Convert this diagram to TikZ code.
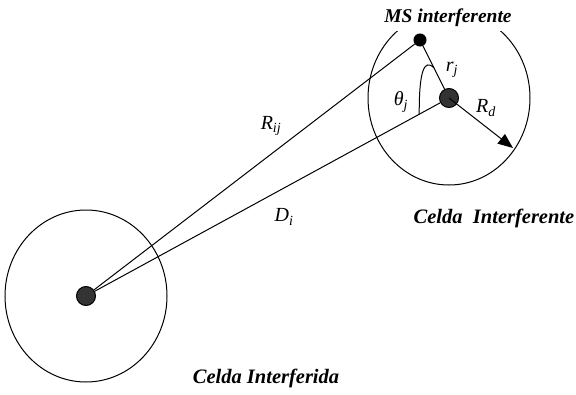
\documentclass[tikz,border=0pt]{standalone}
\usepackage{fontspec}
\setmainfont{Liberation Serif}
\usetikzlibrary{arrows.meta, calc}

\tikzset{
  station/.style={circle, draw, fill=black!80, minimum size=19pt, inner sep=0pt},
  mobile/.style={circle, draw, fill=black, minimum size=12pt, inner sep=0pt},
  caption/.style={font=\bfseries\itshape\fontsize{20.5}{22}\selectfont}
}

\begin{document}
\begin{tikzpicture}[x=1pt, y=-1pt, line width=1pt, every node/.style={font=\itshape\fontsize{20}{22}\selectfont}]
\useasboundingbox (0,0) rectangle (576,394);
% cells
\draw (86,296) ellipse [x radius=81, y radius=86];
\draw (449,98) ellipse [x radius=81, y radius=87];
\node[station] (bs) at (86,296) {};
\node[station] (bsj) at (449,98) {};
\node[mobile] (ms) at (420,40) {};
\coordinate (tip) at (513,148);
\draw (bs) -- (ms);
\draw (bs) -- (bsj);
\draw (ms) -- (bsj);
\draw[-{Triangle[length=15pt, width=12pt]}] (bsj.center) -- (tip);
\draw ($(bsj.center)!0.52!(ms.center)$) .. controls (424,58) and (419,72) .. ($(bsj.center)!0.082!(bs.center)$);
% labels
\node[caption, font=\bfseries\itshape\fontsize{19.5}{21}\selectfont, fill=white, inner xsep=2pt, inner ysep=5pt, anchor=base] (msl) at (448,22) {MS interferente};
\node (rj) at (452,70) {r\textsubscript{j}};
\node (thj) at (401,102) {θ\textsubscript{j}};
\node (rd) at (486,108) {R\textsubscript{d}};
\node (rij) at (271,126) {R\textsubscript{ij}};
\node (di) at (284,217) {D\textsubscript{i}};
\node[caption, anchor=base] (cj) at (494,223) {Celda\ \ Interferente};
\node[caption, anchor=base] (ci) at (266,383) {Celda Interferida};
\end{tikzpicture}
\end{document}
